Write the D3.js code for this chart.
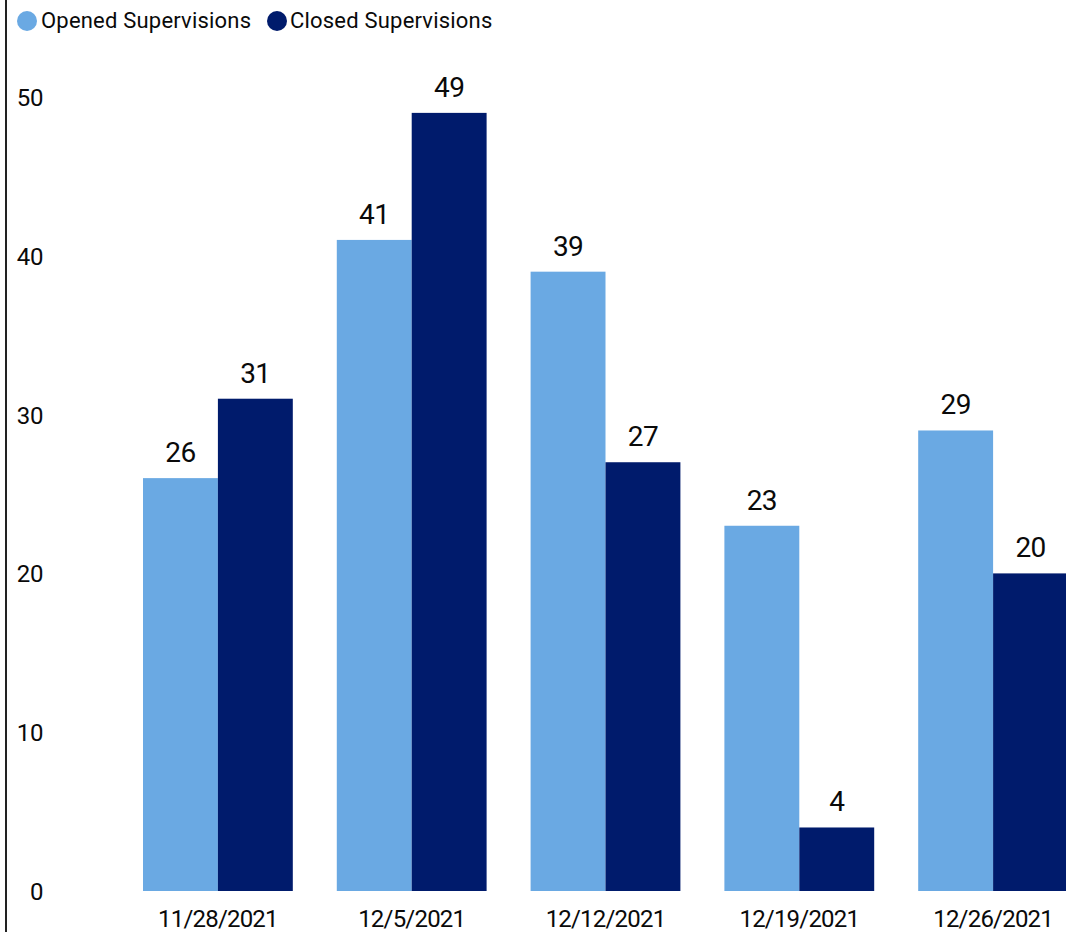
<!DOCTYPE html>
<html><head><meta charset="utf-8">
<script src="https://cdn.jsdelivr.net/npm/d3@7"></script>
<style>body{margin:0;background:#fff}svg{display:block}text{font-family:Roboto, sans-serif;fill:#0a0a0a}</style>
</head><body>
<script>
const categories = ["11/28/2021","12/5/2021","12/12/2021","12/19/2021","12/26/2021"];
const seriesNames = ["Opened Supervisions","Closed Supervisions"];
const opened = [26,41,39,23,29];
const closed = [31,49,27,4,20];
const yTicks = [0,10,20,30,40,50];
const colors = ["#6AA9E3","#001B6C"];

const W=1066,H=932;
const svg=d3.select("body").append("svg").attr("width",W).attr("height",H);

svg.append("line").attr("x1",6).attr("x2",6).attr("y1",0).attr("y2",H).attr("stroke","#222").attr("stroke-width",2);

const x=d3.scaleBand().domain(categories).range([143,1068]).paddingInner(0.227).paddingOuter(0);
const xs=d3.scaleBand().domain(seriesNames).range([0,x.bandwidth()]);
const y=d3.scaleLinear().domain([0,50]).range([891,97]);

const series=[opened,closed];
series.forEach((vals,si)=>{
  const g=svg.append("g");
  g.selectAll("rect").data(vals).join("rect")
    .attr("x",(d,i)=>x(categories[i])+xs(seriesNames[si]))
    .attr("y",d=>y(d)).attr("width",xs.bandwidth()).attr("height",d=>y(0)-y(d))
    .attr("fill",colors[si]);
  g.selectAll("text").data(vals).join("text")
    .attr("x",(d,i)=>x(categories[i])+xs(seriesNames[si])+xs.bandwidth()/2)
    .attr("y",d=>y(d)-16).attr("text-anchor","middle")
    .style("font-size","28px").style("letter-spacing","-0.6px").text(d=>d);
});

// y axis labels
svg.append("g").selectAll("text").data(yTicks).join("text")
  .attr("x",43).attr("y",d=>y(d)+9).attr("text-anchor","end")
  .style("font-size","24px").style("letter-spacing","-0.4px").text(d=>d);

// x axis labels
svg.append("g").selectAll("text").data(categories).join("text")
  .attr("x",d=>x(d)+x.bandwidth()/2).attr("y",927).attr("text-anchor","middle")
  .style("font-size","24px").style("letter-spacing","-0.8px").text(d=>d);

// legend
const leg=[{x:27,tx:41},{x:277,tx:290}];
seriesNames.forEach((n,i)=>{
  svg.append("circle").attr("cx",leg[i].x).attr("cy",21).attr("r",10).attr("fill",colors[i]);
  svg.append("text").attr("x",leg[i].tx).attr("y",28).style("font-size","22px").style("letter-spacing","0.2px").text(n);
});
</script>
</body></html>
